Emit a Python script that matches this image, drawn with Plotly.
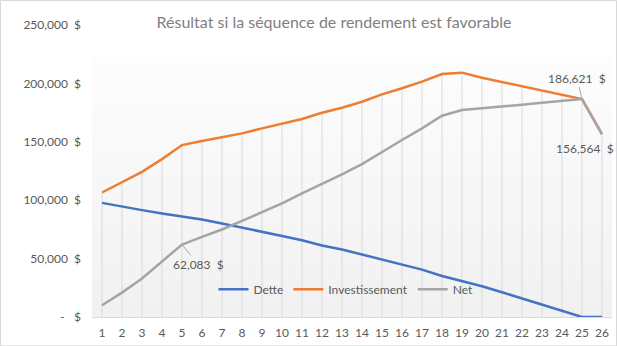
import plotly.graph_objects as go

# Year index along the horizontal axis
years = list(range(1, 27))

# Remaining debt, investment value and net position (dollars)
dette = [97700, 94300, 91500, 88600, 86300, 83500, 80100, 76600, 73500, 69400,
         65700, 61200, 57800, 53500, 49200, 44900, 40600, 35100, 30900, 26300,
         21200, 16000, 10900, 5100, 0, 0]
investissement = [106600, 115700, 124300, 135200, 147200, 150600, 153800, 157200,
                  161500, 165200, 169500, 174900, 179200, 184300, 190600, 195800,
                  201500, 208000, 209200, 204900, 201200, 197800, 194300, 190300,
                  186621, 156564]
net = [10000, 20900, 32900, 47100, 62083, 68600, 74900, 82300, 89500, 97200,
       105800, 113700, 122100, 130900, 141400, 151500, 161500, 172300, 177200,
       178600, 179800, 181700, 183400, 185200, 186621, 156564]

# Y-axis ticks
y_ticks = [0, 50000, 100000, 150000, 200000, 250000]

# Points of the Net series that carry a value label
net_labels = [5, 25, 26]

TEXT = "#595959"
FONT = "Lato"


def money(v):
    if v == 0:
        return "-\u00a0\u00a0\u00a0$"
    return f"{v:,.0f}\u00a0\u00a0$"


fig = go.Figure()

# Drop lines from the highest series down to the axis
top = [max(a, b, c) for a, b, c in zip(dette, investissement, net)]
dx, dy = [], []
for x, t in zip(years, top):
    dx += [x, x, None]
    dy += [0, t, None]
fig.add_trace(go.Scatter(x=dx, y=dy, mode="lines", showlegend=False,
                         hoverinfo="skip",
                         line=dict(color="#d9d9d9", width=1)))

series = [("Dette", dette, "#4472C4"),
          ("Investissement", investissement, "#ED7D31"),
          ("Net", net, "#A5A5A5")]
for name, vals, col in series:
    fig.add_trace(go.Scatter(x=years, y=vals, name=name, mode="lines",
                             line=dict(color=col, width=2.5)))

# Plot-area gradient fill (white at the top, light grey at the bottom)
PLOT_L, PLOT_R, PLOT_T, PLOT_B = 92, 612, 25, 316.7
H = PLOT_B - PLOT_T
grad_top_px = 57
n = 40
for i in range(n):
    y0px = grad_top_px + (PLOT_B - grad_top_px) * i / n
    y1px = grad_top_px + (PLOT_B - grad_top_px) * (i + 1) / n
    f = (i + 0.5) / n
    g = round(253 - (253 - 241) * f)
    fig.add_shape(type="rect", xref="paper", yref="paper", layer="below",
                  x0=0, x1=1,
                  y0=(PLOT_B - y1px) / H, y1=(PLOT_B - y0px) / H + 0.002,
                  fillcolor=f"rgb({g},{g},{g})", line_width=0)

# Chart border
W_PX, H_PX = 617, 346
fig.add_shape(type="rect", xref="paper", yref="paper", layer="above",
              x0=(0.5 - PLOT_L) / (PLOT_R - PLOT_L),
              x1=(W_PX - 0.5 - PLOT_L) / (PLOT_R - PLOT_L),
              y0=(PLOT_B - (H_PX - 0.5)) / H, y1=(PLOT_B - 0.5) / H,
              line=dict(color="#d9d9d9", width=1))

# Value labels on the Net series
label_pos = {5: dict(showarrow=True, ax=16, ay=20),
             25: dict(showarrow=True, ax=-5, ay=-21),
             26: dict(showarrow=False, xshift=-17, yshift=-14)}
for yr in net_labels:
    v = net[yr - 1]
    fig.add_annotation(x=yr, y=v, text=money(v), arrowhead=0, arrowwidth=1,
                       arrowcolor="#a6a6a6", standoff=0,
                       font=dict(family=FONT, size=12, color=TEXT),
                       **label_pos[yr])

fig.update_layout(
    width=W_PX, height=H_PX,
    margin=dict(l=PLOT_L, r=W_PX - PLOT_R, t=PLOT_T, b=H_PX - PLOT_B),
    paper_bgcolor="white", plot_bgcolor="white",
    font=dict(family=FONT, color=TEXT, size=12),
    title=dict(text="Résultat si la séquence de rendement est favorable",
               x=334 / W_PX, xanchor="center", y=1 - 22 / H_PX, yanchor="middle",
               font=dict(family=FONT, size=16, color="#7f7f7f")),
    legend=dict(orientation="h", x=(346 - PLOT_L) / (PLOT_R - PLOT_L),
                xanchor="center", y=(PLOT_B - 289) / H, yanchor="middle",
                bgcolor="rgba(0,0,0,0)", font=dict(size=12, color=TEXT),
                itemwidth=30, tracegroupgap=0),
    showlegend=True,
)
fig.update_xaxes(range=[0.5, 26.5], tickmode="array", tickvals=years,
                 ticktext=[str(y) for y in years], showgrid=False,
                 zeroline=False, showline=True, linecolor="#d9d9d9",
                 linewidth=1, ticks="", ticklabelstandoff=5,
                 tickfont=dict(size=12, color=TEXT))
fig.update_yaxes(range=[0, 250000], tickmode="array", tickvals=y_ticks,
                 ticktext=[money(v) for v in y_ticks], showgrid=False,
                 zeroline=False, showline=False, ticks="",
                 ticklabelstandoff=10, tickfont=dict(size=12, color=TEXT))

fig.write_html("out.html")
